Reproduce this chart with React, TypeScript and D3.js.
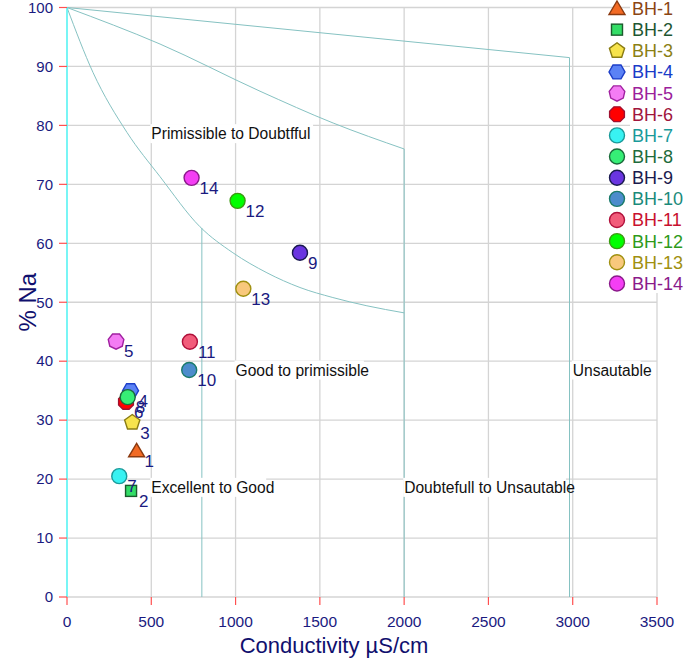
import React from "react";
import * as d3 from "d3";

const stations = ["BH-1","BH-2","BH-3","BH-4","BH-5","BH-6","BH-7","BH-8","BH-9","BH-10","BH-11","BH-12","BH-13","BH-14"];
const labels = ["1","2","3","4","5","6","7","8","9","10","11","12","13","14"];
const conductivity = [413, 380, 387, 377, 291, 350, 310, 360, 1382, 725, 729, 1012, 1046, 739];
const naPercent = [24.8, 18.0, 29.6, 35.0, 43.4, 33.1, 20.5, 33.9, 58.4, 38.5, 43.3, 67.2, 52.3, 71.1];
const shapes = ["triangle","square","pentagon","hexagon","heptagon","octagon","circle","circle","circle","circle","circle","circle","circle","circle"];
const fills = ["#f26a24","#33dd66","#f7e34c","#5b82f5","#f47cf4","#ff0000","#38f2f2","#36ee76","#6a35e0","#4c8ccc","#f25c7a","#00ff00","#f8c87c","#f43ef4"];
const strokes = ["#8b3a10","#1b5a2c","#8a7c12","#1d3ec8","#a020a0","#a01030","#1a9a9a","#1a6a3a","#1a1a50","#1a7a6a","#b0103a","#3a9a10","#a09010","#8a1a8a"];
const legendColors = ["#8b4513","#1e5631","#8b8014","#1a3cc8","#9b209b","#a0143c","#1a9a9a","#1e6b3c","#1a1a4d","#1a8a7a","#c8102e","#2e9a1a","#a09010","#8a1a8a"];

const xTicks = [0, 500, 1000, 1500, 2000, 2500, 3000, 3500];
const yTicks = [0, 10, 20, 30, 40, 50, 60, 70, 80, 90, 100];

// Wilcox boundaries
const boundaryA = [[0, 100], [2981, 91.5], [2981, 0]];
const boundaryB = [[0, 100], [552, 93.8], [1145, 85.8], [1579, 80.4], [2000, 76]];
const boundaryBVert = [[2000, 76], [2000, 0]];
const boundaryC = [[0, 100], [154, 89.0], [356, 78.8], [552, 71.3], [789, 62.8], [984, 58.4], [1186, 55.0], [1382, 52.5], [1577, 50.8], [1779, 49.4], [2000, 48.2]];
const boundaryCVert = [[800, 62.6], [800, 0]];

const regionNames = ["Primissible to Doubtfful", "Good to primissible", "Unsautable", "Doubtefull to Unsautable", "Excellent to Good"];
const regionX = [500, 1000, 3000, 2000, 500];
const regionY = [78.6, 38.5, 38.5, 18.6, 18.6];

const FONT = "'Liberation Sans', Arial, Helvetica, sans-serif";
const NAVY = "#1a1a80";

function polygon(n: number, r: number, start: number) {
  const pts: string[] = [];
  for (let i = 0; i < n; i++) {
    const a = start + (i * 2 * Math.PI) / n;
    pts.push(`${(r * Math.cos(a)).toFixed(2)},${(r * Math.sin(a)).toFixed(2)}`);
  }
  return pts.join(" ");
}

function Marker({ shape, x, y, fill, stroke }: { shape: string; x: number; y: number; fill: string; stroke: string }) {
  const common = { fill, stroke, strokeWidth: 1.4 };
  let el: React.ReactNode;
  switch (shape) {
    case "triangle":
      el = <polygon points={`0,-7.5 8,6 -8,6`} {...common} />;
      break;
    case "square":
      el = <rect x={-5.5} y={-5.5} width={11} height={11} {...common} />;
      break;
    case "pentagon":
      el = <polygon points={polygon(5, 8, -Math.PI / 2)} {...common} />;
      break;
    case "hexagon":
      el = <polygon points={polygon(6, 8, 0)} {...common} />;
      break;
    case "heptagon":
      el = <polygon points={polygon(7, 8, -Math.PI / 2 + Math.PI / 7)} {...common} />;
      break;
    case "octagon":
      el = <polygon points={polygon(8, 8, Math.PI / 8)} {...common} />;
      break;
    default:
      el = <circle r={7.5} {...common} />;
  }
  return <g transform={`translate(${x},${y})`}>{el}</g>;
}

export default function App() {
  const W = 685, H = 660;
  const x = d3.scaleLinear().domain([0, 3500]).range([67, 657]);
  const y = d3.scaleLinear().domain([0, 100]).range([597, 7.5]);
  const line = d3.line<number[]>().x(d => x(d[0])).y(d => y(d[1]));
  const smooth = d3.line<number[]>().x(d => x(d[0])).y(d => y(d[1])).curve(d3.curveMonotoneX);
  const bColor = "#86c2c2";

  return (
    <svg width={W} height={H} style={{ position: "absolute", left: 0, top: 0, background: "#fff" }} fontFamily={FONT}>
      <rect width={W} height={H} fill="#fff" />
      {/* grid */}
      {yTicks.map(t => (
        <line key={"gy" + t} x1={x(0)} x2={x(3500)} y1={y(t)} y2={y(t)} stroke="#d4d4d4" strokeWidth={1.3} />
      ))}
      {xTicks.map(t => (
        <line key={"gx" + t} x1={x(t)} x2={x(t)} y1={y(0)} y2={y(100)} stroke="#d4d4d4" strokeWidth={1.3} />
      ))}
      {/* boundaries */}
      <path d={line(boundaryA) || ""} fill="none" stroke={bColor} strokeWidth={1} />
      <path d={smooth(boundaryB) || ""} fill="none" stroke={bColor} strokeWidth={1} />
      <path d={line(boundaryBVert) || ""} fill="none" stroke={bColor} strokeWidth={1} />
      <path d={smooth(boundaryC) || ""} fill="none" stroke={bColor} strokeWidth={1} />
      <path d={line(boundaryCVert) || ""} fill="none" stroke={bColor} strokeWidth={1} />
      {/* y axis line */}
      <line x1={x(0)} x2={x(0)} y1={y(0)} y2={y(100)} stroke="#40ffff" strokeWidth={1.3} />
      {/* region labels */}
      {regionNames.map((n, i) => {
        const w = n.length * 6.7;
        return (
          <g key={n}>
            <rect x={x(regionX[i]) - 1} y={y(regionY[i]) - 9.5} width={w + 2} height={19} fill="#fff" />
            <text x={x(regionX[i])} y={y(regionY[i])} dy="0.35em" fontSize={15.6} fill="#111">{n}</text>
          </g>
        );
      })}
      {/* ticks */}
      {yTicks.map(t => (
        <g key={"ty" + t}>
          <line x1={x(0) - 8} x2={x(0)} y1={y(t)} y2={y(t)} stroke="#ff5050" strokeWidth={1.2} />
          <text x={53} y={y(t)} dy="0.35em" textAnchor="end" fontSize={15} fill={NAVY}>{t}</text>
        </g>
      ))}
      {xTicks.map(t => (
        <g key={"tx" + t}>
          <line x1={x(t)} x2={x(t)} y1={y(0)} y2={y(0) + 8} stroke="#ff5050" strokeWidth={1.2} />
          <text x={x(t)} y={622} dy="0.35em" textAnchor="middle" fontSize={15.5} fill={NAVY}>{t}</text>
        </g>
      ))}
      {/* axis titles */}
      <text x={x(1750) - 28} y={645} dy="0.35em" textAnchor="middle" fontSize={22} fill="#10106e">Conductivity µS/cm</text>
      <text transform={`translate(28,${y(50)}) rotate(-90)`} dy="0.35em" textAnchor="middle" fontSize={24} fill="#10106e">% Na</text>
      {/* points */}
      {stations.map((s, i) => (
        <Marker key={s} shape={shapes[i]} x={x(conductivity[i])} y={y(naPercent[i])} fill={fills[i]} stroke={strokes[i]} />
      ))}
      {stations.map((s, i) => (
        <text key={"l" + s} x={x(conductivity[i]) + 8} y={y(naPercent[i]) + 16} fontSize={17} fill={NAVY}>{labels[i]}</text>
      ))}
      {/* legend */}
      <rect x={630} y={0} width={55} height={293} fill="#fff" />
      {stations.map((s, i) => {
        const ly = 8.5 + i * 21.15;
        return (
          <g key={"lg" + s}>
            <Marker shape={shapes[i]} x={617} y={ly} fill={fills[i]} stroke={strokes[i]} />
            <text x={632} y={ly} dy="0.36em" fontSize={18} fill={legendColors[i]}>{s}</text>
          </g>
        );
      })}
    </svg>
  );
}
